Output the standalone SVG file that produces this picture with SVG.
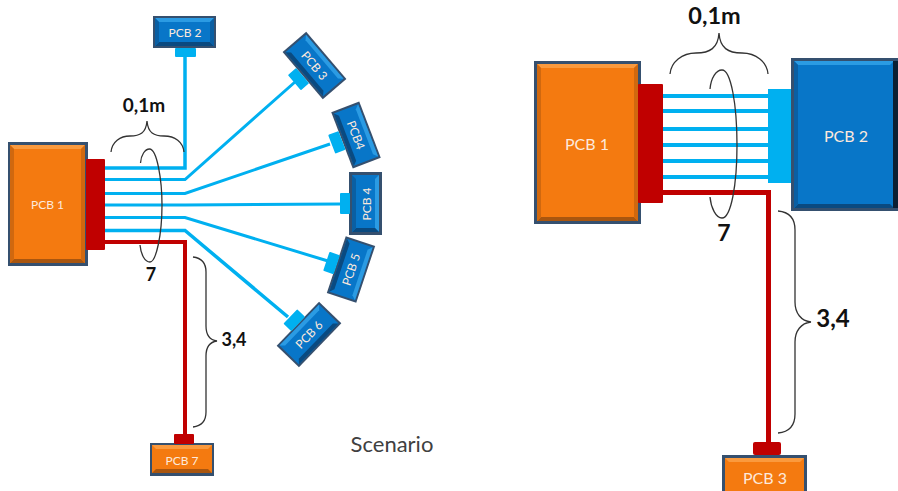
<svg xmlns="http://www.w3.org/2000/svg" width="898" height="491" viewBox="0 0 898 491">
<style>
.frame{fill:#35506f}
.o{fill:#f47a10}.ot{fill:#fa9a3e}.ob{fill:#a9560f}.os{fill:#d0680f}
.b{fill:#0876c8}.bt{fill:#2b9be3}.bb{fill:#0a4a80}.bs{fill:#0a5fa3}
.lab{font-family:"Lato","Open Sans",sans-serif;fill:#fde9dc;text-anchor:middle;dominant-baseline:central}
.dim{font-family:"Lato","Open Sans",sans-serif;font-weight:700;fill:#111;text-anchor:middle}
.cy{fill:#00b0f0}.rd{fill:#c00000}
.wc{stroke:#00b0f0;fill:none}.wr{stroke:#c00000;fill:none}
.br{stroke:#333;stroke-width:1.3;fill:none}
</style>
<g id="connectors">
<g class="wc" stroke-width="3">
<path d="M105 168H185V57" stroke-width="3.5"/>
<path d="M105 179.5H185L295 82"/>
<path d="M105 193.5H185L330 144"/>
<path d="M105 205H185L340 204"/>
<path d="M105 217.5H185L328 261"/>
<path d="M105 230.5H185L288 317" stroke-width="3.5"/>
</g>
<path class="wr" stroke-width="4" d="M105 242H185V435"/>
<g class="wc" stroke-width="4">
<path d="M663 96H768M663 111H768M663 129H768M663 145H768M663 161H768M663 177H768"/>
</g>
<path class="wr" stroke-width="5" d="M663 192.500H768.500V443"/>
</g>
<g id="pcb1-left">
<rect class="frame" x="8" y="142" width="80" height="124"/>
<rect class="o" x="10" y="145" width="75" height="118"/>
<polygon class="ot" points="10,145 85,145 81,149 14,149"/>
<polygon class="ob" points="10,263 85,263 81,259 14,259"/>
<polygon class="os" points="10,145 14,149 14,259 10,263"/>
<polygon class="os" points="85,145 81,149 81,259 85,263"/>
<text class="lab" x="47.500" y="204" font-size="12">PCB 1</text>
<rect class="rd" x="86" y="159" width="19" height="91" rx="1"/>
</g>
<g id="pcb2-left">
<rect class="frame" x="153" y="16" width="63" height="32"/>
<rect class="b" x="155" y="18" width="59" height="28"/>
<polygon class="bt" points="155,18 214,18 210,22 159,22"/>
<polygon class="bb" points="155,46 214,46 210,42 159,42"/>
<polygon class="bs" points="155,18 159,22 159,42 155,46"/>
<polygon class="bs" points="214,18 210,22 210,42 214,46"/>
<text class="lab" x="185" y="32.500" font-size="12">PCB 2</text>
<rect class="cy" x="175" y="48" width="21" height="9" rx="1"/>
</g>
<g id="pcb3-left" transform="translate(314.500 65.500) rotate(49.600)">
<rect class="frame" x="-31" y="-15.500" width="62" height="31"/>
<rect class="b" x="-29" y="-13.500" width="58" height="27"/>
<polygon class="bt" points="-29,-13.500 29,-13.500 25,-9.500 -25,-9.500"/>
<polygon class="bb" points="-29,13.500 29,13.500 25,9.500 -25,9.500"/>
<text class="lab" x="0" y="0" font-size="12">PCB 3</text>
<rect class="cy" x="-10" y="15.500" width="20" height="11" rx="1"/>
</g>
<g id="pcb4a-left" transform="translate(356 135) rotate(69)">
<rect class="frame" x="-30" y="-15" width="60" height="30"/>
<rect class="b" x="-28" y="-13" width="56" height="26"/>
<polygon class="bt" points="-28,-13 28,-13 24,-9 -24,-9"/>
<polygon class="bb" points="-28,13 28,13 24,9 -24,9"/>
<text class="lab" x="0" y="0" font-size="12">PCB4</text>
<rect class="cy" x="-10" y="15" width="20" height="11" rx="1"/>
</g>
<g id="pcb4b-left">
<rect class="frame" x="349" y="172" width="33" height="63"/>
<rect class="b" x="352" y="175" width="27" height="57"/>
<polygon class="bt" points="379,175 379,232 375,228 375,179"/>
<polygon class="bb" points="352,232 379,232 375,228 356,228"/>
<polygon class="bs" points="352,175 356,179 356,228 352,232"/>
<text class="lab" transform="translate(366 204) rotate(-90)" font-size="12">PCB 4</text>
<rect class="cy" x="340" y="193" width="10" height="21" rx="1"/>
</g>
<g id="pcb5-left" transform="translate(351 269.500) rotate(-71.600)">
<rect class="frame" x="-30" y="-15.500" width="60" height="31"/>
<rect class="b" x="-28" y="-13.500" width="56" height="27"/>
<polygon class="bb" points="-28,-13.500 28,-13.500 24,-9.500 -24,-9.500"/>
<polygon class="bt" points="-28,13.500 28,13.500 24,9.500 -24,9.500"/>
<text class="lab" x="0" y="0" font-size="12">PCB 5</text>
<rect class="cy" x="-10" y="-26" width="20" height="11" rx="1"/>
</g>
<g id="pcb6-left" transform="translate(309 334.500) rotate(-46)">
<rect class="frame" x="-30.500" y="-15.500" width="61" height="31"/>
<rect class="b" x="-28.500" y="-13.500" width="57" height="27"/>
<polygon class="bt" points="-28.500,-13.500 28.500,-13.500 24.500,-9.500 -24.500,-9.500"/>
<polygon class="bb" points="-28.500,13.500 28.500,13.500 24.500,9.500 -24.500,9.500"/>
<text class="lab" x="0" y="0" font-size="12">PCB 6</text>
<rect class="cy" x="-10" y="-26" width="20" height="11" rx="1"/>
</g>
<g id="pcb7-left">
<rect class="frame" x="150" y="443" width="64" height="33"/>
<rect class="o" x="152" y="445" width="60" height="28"/>
<polygon class="ot" points="152,445 212,445 208,449 156,449"/>
<polygon class="ob" points="152,473 212,473 208,469 156,469"/>
<text class="lab" x="182" y="460" font-size="12">PCB 7</text>
<rect class="rd" x="174" y="434" width="20" height="10" rx="1"/>
</g>
<g id="pcb1-right">
<rect class="frame" x="534" y="61" width="107" height="163"/>
<rect class="o" x="537" y="64" width="101" height="157"/>
<polygon class="ot" points="537,64 638,64 634,68 541,68"/>
<polygon class="ob" points="537,221 638,221 634,217 541,217"/>
<polygon class="os" points="537,64 541,68 541,217 537,221"/>
<polygon class="os" points="638,64 634,68 634,217 638,221"/>
<text class="lab" x="587" y="143" font-size="16">PCB 1</text>
<rect class="rd" x="638" y="84" width="25" height="119" rx="1"/>
</g>
<g id="pcb2-right">
<rect class="frame" x="791" y="58" width="107" height="153"/>
<rect class="b" x="794" y="61" width="100" height="147"/>
<polygon class="bt" points="794,61 894,61 890,65 798,65"/>
<polygon class="bb" points="794,208 894,208 890,204 798,204"/>
<polygon class="bs" points="794,61 798,65 798,204 794,208"/>
<rect x="893" y="61" width="5" height="147" fill="#0b1f33"/>
<text class="lab" x="846" y="135" font-size="16">PCB 2</text>
<rect class="cy" x="768" y="89" width="23" height="94"/>
</g>
<g id="pcb3-right">
<rect class="frame" x="722" y="455" width="85" height="36"/>
<rect class="o" x="725" y="458" width="79" height="33"/>
<polygon class="ot" points="725,458 804,458 800,462 729,462"/>
<text class="lab" x="765" y="477" font-size="16">PCB 3</text>
<rect class="rd" x="753" y="442" width="28" height="13" rx="2"/>
</g>
<g id="annotations">
<path class="br" d="M111 152C112 142 120 136 130 136C140 136 146 133 147 121C148 133 154 136 164 136C175 136 183 142 184 152"/>
<path class="br" d="M140.500 163C141 155 145 149 149.500 149C157 149 162 180 162 205C162 235 156 262 150 262C145 262 141 255 140 245"/>
<path class="br" d="M193 257C201 258 206 263 206 272V326C206 335 210 340 217 341C210 342 206 347 206 356V412C206 421 201 426 193 427"/>
<path class="br" d="M670 74C671 62 682 53 696 53C710 53 718 48 719 33C720 48 728 53 742 53C756 53 767 62 768 74"/>
<path class="br" d="M710 89C711 78 716 70 722 70C731 70 737 105 737 145C737 185 731 218 722 218C716 218 711 208 710 197"/>
<path class="br" d="M778 211C789 212 795 218 795 230V302C795 313 801 321 811 322C801 323 795 331 795 342V414C795 426 789 432 778 433"/>
<text class="dim" x="144" y="112" font-size="19">0,1m</text>
<text class="dim" x="151" y="281" font-size="18">7</text>
<text class="dim" x="234" y="346" font-size="18">3,4</text>
<text class="dim" x="714.500" y="24" font-size="23.500">0,1m</text>
<text class="dim" x="724" y="241" font-size="23">7</text>
<text class="dim" x="833" y="327" font-size="24">3,4</text>
<text x="392" y="452" font-family="Lato,'Open Sans',sans-serif" font-size="22" fill="#404040" text-anchor="middle">Scenario</text>
</g>
</svg>
